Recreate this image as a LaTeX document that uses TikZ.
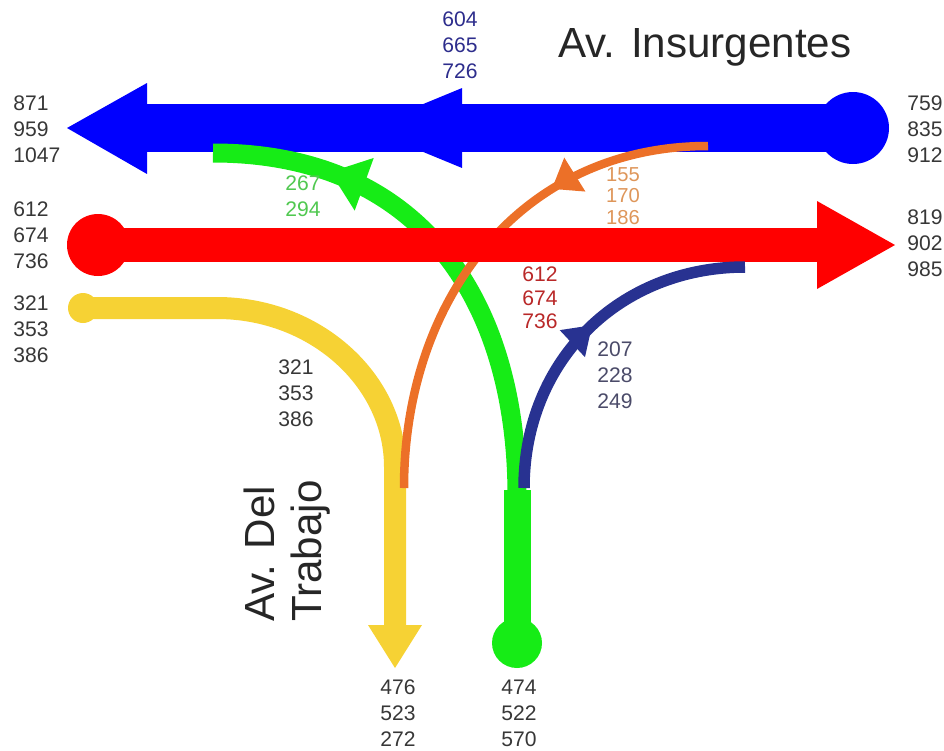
\documentclass[tikz,border=0pt]{standalone}
\usepackage{fontspec}
\setmainfont{Liberation Sans}
\usetikzlibrary{arrows.meta, decorations.markings}
\definecolor{RoadBlue}{RGB}{0,0,255}
\definecolor{RoadRed}{RGB}{255,0,0}
\definecolor{RoadYellow}{RGB}{246,210,52}
\definecolor{RoadGreen}{RGB}{22,236,22}
\definecolor{RoadOrange}{RGB}{236,112,40}
\definecolor{RoadNavy}{RGB}{40,50,145}
\definecolor{NumGray}{RGB}{55,55,55}
\definecolor{NumNavy}{RGB}{45,45,140}
\definecolor{NumGreen}{RGB}{80,200,80}
\definecolor{NumOrange}{RGB}{222,150,90}
\definecolor{NumRed}{RGB}{185,40,40}
\definecolor{NumSlate}{RGB}{75,75,105}

\begin{document}
\begin{tikzpicture}[x=0.02cm, y=-0.02cm,
    num/.style={font=\fontsize{12}{14.8}\selectfont, text=NumGray,
                inner sep=0pt, align=center},
    numside/.style={num, anchor=west, align=left},
    street/.style={font=\fontsize{24}{27}\selectfont, text=black!85,
                   inner sep=0pt, align=left},
    headmark/.style args={#1 of #2 by #3}{postaction={decorate},
        decoration={markings, mark=at position #1 with
          {\fill (0,0) -- (-#2,#3) -- (-#2,-#3) -- cycle;}}}
  ]
  \useasboundingbox (0,0) rectangle (944,751);

  % road end points
  \coordinate (bluE) at (853,128);
  \coordinate (bluB) at (147,128);
  \coordinate (bluW) at (67,128);
  \coordinate (redW) at (98,245);
  \coordinate (redB) at (817,245);
  \coordinate (redE) at (895,245);
  \coordinate (yelW) at (83,308);
  \coordinate (yelK) at (217,308);
  \coordinate (yelC) at (395,467);
  \coordinate (yelB) at (395,625);
  \coordinate (yelS) at (395,668);
  \coordinate (grnS) at (517,643);
  \coordinate (grnK) at (517,490);
  \coordinate (grnE) at (213,153);
  \coordinate (oraE) at (708,146);
  \coordinate (oraS) at (404,488);
  \coordinate (navS) at (524,488);
  \coordinate (navE) at (745,267);

  % Av. Del Trabajo, southbound (yellow)
  \draw[RoadYellow, line width=0.44cm] (yelW) -- (yelK)
        .. controls (315,308) and (395,380) .. (yelC) -- (yelB);
  \fill[RoadYellow] (yelW) circle[radius=15];
  \fill[RoadYellow] ([xshift=-0.54cm]yelB) -- (yelS)
        -- ([xshift=0.54cm]yelB) -- cycle;

  % Av. Insurgentes, westbound (blue)
  \draw[RoadBlue, line width=0.96cm,
        headmark=9.76cm of 1.94cm by 0.8cm] (bluE) -- (bluB);
  \fill[RoadBlue] (bluE) circle[radius=36];
  \fill[RoadBlue] ([yshift=0.9cm]bluB) -- (bluW)
        -- ([yshift=-0.92cm]bluB) -- cycle;

  % northbound, turning left (green)
  \draw[RoadGreen, line width=0.54cm] (grnS) -- (grnK);
  \fill[RoadGreen] (grnS) circle[radius=25];
  \draw[RoadGreen, line width=0.38cm, headmark=0.77 of 0.72cm by 0.56cm]
        (517,496) .. controls (517,300) and (420,153) .. (grnE);

  % westbound, turning left (orange)
  \draw[RoadOrange, line width=0.17cm, headmark=0.32 of 0.54cm by 0.4cm]
        (oraE) .. controls (520,146) and (404,300) .. (oraS);

  % Av. Insurgentes, eastbound (red)
  \draw[RoadRed, line width=0.68cm] (redW) -- (redB);
  \fill[RoadRed] (redW) circle[radius=31];
  \fill[RoadRed] ([yshift=0.88cm]redB) -- (redE)
        -- ([yshift=-0.88cm]redB) -- cycle;

  % northbound, turning right (navy)
  \draw[RoadNavy, line width=0.23cm, headmark=0.52 of 0.54cm by 0.37cm]
        (navS) .. controls (524,360) and (620,267) .. (navE);

  % street names
  \node[street] (insur) at (705,47) {Av. Insurgentes};
  \node[street, rotate=90] (trab) at (287,551) {Av. Del\\Trabajo};

  % volumes at the ends
  \node[numside] (nBluW) at (13,129) {871\\959\\1047};
  \node[numside] (nBluE) at (907,129) {759\\835\\912};
  \node[numside] (nRedW) at (13,235) {612\\674\\736};
  \node[numside] (nRedE) at (907,243) {819\\902\\985};
  \node[numside] (nYelW) at (13,329) {321\\353\\386};
  \node[num] (nYelS) at (398,713) {476\\523\\272};
  \node[num] (nGrnS) at (519,713) {474\\522\\570};

  % volumes along the movements
  \node[num, text=NumNavy] (nBluM) at (460,45) {604\\665\\726};
  \node[num, text=NumGreen] (nGrn) at (303,196) {267\\294};
  \node[num, text=NumOrange, font=\fontsize{11.5}{12.4}\selectfont]
        (nOra) at (623,196) {155\\170\\186};
  \node[num, text=NumRed, font=\fontsize{12}{13.4}\selectfont]
        (nRed) at (540,298) {612\\674\\736};
  \node[num, text=NumSlate] (nNav) at (615,375) {207\\228\\249};
  \node[num] (nYel) at (296,393) {321\\353\\386};
\end{tikzpicture}
\end{document}
